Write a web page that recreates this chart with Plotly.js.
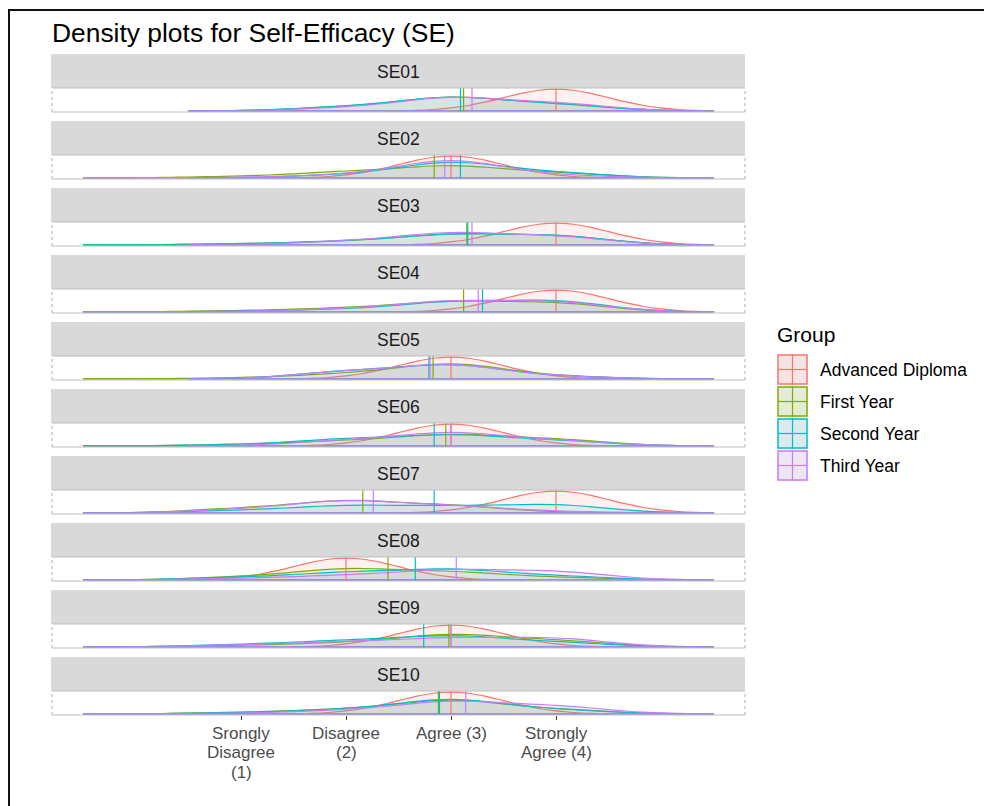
<!DOCTYPE html>
<html>
<head>
<meta charset="utf-8">
<script src="https://cdn.plot.ly/plotly-3.0.1.min.js"></script>
<style>
html,body{margin:0;padding:0;background:#fff;}
#chart{position:absolute;left:0;top:0;width:984px;height:806px;}
#frame{position:absolute;left:8px;top:9px;width:976px;height:797px;border-left:2px solid #111;border-top:2px solid #111;pointer-events:none;box-sizing:border-box;}
</style>
</head>
<body>
<div id="chart"></div>
<div id="frame"></div>
<script>
// ---------------- data ----------------
const chartTitle = 'Density plots for Self-Efficacy (SE)';
const items = ['SE01','SE02','SE03','SE04','SE05','SE06','SE07','SE08','SE09','SE10'];
const groups = ['Advanced Diploma','First Year','Second Year','Third Year'];
const groupColors = ['#F8766D','#7CAE00','#00BFC4','#C77CFF'];
const levels = [1, 2, 3, 4];
const tickText = ['Srongly<br>Disagree<br>(1)', 'Disagree<br>(2)', 'Agree (3)', 'Strongly<br>Agree (4)'];
const legendTitle = 'Group';

// % of each group answering level 1..4, one row per item (SE01..SE10)
const pctAdvancedDiploma = [
  [0,0,0,100],[0,0,100,0],[0,0,0,100],[0,0,0,100],[0,0,100,0],
  [0,0,100,0],[0,0,0,100],[0,100,0,0],[0,0,100,0],[0,0,100,0]
];
const pctFirstYear = [
  [0,15,58,27],[6,24,50,20],[5,13,44,38],[5,15,43,37],[4,20,65,11],
  [6,20,47,27],[18,50,30,2],[12,46,32,10],[6,16,52,26],[6,18,58,18]
];
const pctSecondYear = [
  [0,17,57,26],[0,12,67,21],[4,15,42,39],[3,10,41,46],[0,31,59,10],
  [5,28,45,22],[10,30,26,34],[10,30,44,16],[10,25,46,19],[5,17,62,16]
];
const pctThirdYear = [
  [0,12,56,32],[2,12,76,10],[0,15,50,35],[2,12,44,42],[0,30,60,10],
  [0,22,56,22],[14,52,28,6],[6,18,41,35],[8,20,36,36],[2,14,52,32]
];
const densityBandwidth = 0.5;

// ---------------- layout geometry (pixels) ----------------
const L = 52, R = 745, T = 54, B = 715;
const facetPitch = 67, stripH = 34, panelH = 24;
const py = p => (B - p) / (B - T);
const px = p => (p - L) / (R - L);

const groupPct = [pctAdvancedDiploma, pctFirstYear, pctSecondYear, pctThirdYear];

function expand(pct) {
  const s = [];
  pct.forEach((c, k) => { for (let j = 0; j < c; j++) s.push(levels[k]); });
  return s;
}
function rgba(hex, a) {
  const n = parseInt(hex.slice(1), 16);
  return 'rgba(' + ((n >> 16) & 255) + ',' + ((n >> 8) & 255) + ',' + (n & 255) + ',' + a + ')';
}

const violins = [], baselines = [], shapes = [], annotations = [];
const font = 'Liberation Sans, Arial, sans-serif';

const layout = {
  width: 984, height: 806,
  margin: {l: L, r: 984 - R, t: T, b: 806 - B, pad: 0},
  paper_bgcolor: 'rgba(0,0,0,0)', plot_bgcolor: '#FFFFFF',
  font: {family: font, color: '#000000'},
  showlegend: false,
  violinmode: 'overlay', violingap: 0, violingroupgap: 0,
  title: {
    text: chartTitle, x: 52 / 984, xref: 'container', xanchor: 'left',
    y: 1 - 33 / 806, yref: 'container', yanchor: 'middle',
    font: {family: font, size: 26.4, color: '#000000'}
  },
  xaxis: {
    range: [-0.8, 5.8], domain: [0, 1], anchor: 'y10',
    tickmode: 'array', tickvals: levels, ticktext: tickText, showticklabels: false,
    ticks: 'outside', ticklen: 4, tickwidth: 1, tickcolor: '#333333',
    tickfont: {family: font, size: 17, color: '#4D4D4D'},
    showgrid: false, zeroline: false, showline: false, fixedrange: true
  }
};

// tick labels (ggplot-style tight line spacing), placed on the x scale
levels.forEach((v, k) => {
  tickText[k].split('<br>').forEach((line, j) => {
    annotations.push({text: line, xref: 'x', yref: 'paper', x: v, y: py(733 + 19.5 * j),
      xanchor: 'center', yanchor: 'middle', showarrow: false,
      font: {family: font, size: 17, color: '#4D4D4D'}});
  });
});

items.forEach((item, i) => {
  const yname = i === 0 ? 'y' : 'y' + (i + 1);
  const yKey = i === 0 ? 'yaxis' : 'yaxis' + (i + 1);
  const stripTop = T + facetPitch * i;
  const stripBot = stripTop + stripH;
  const panelBot = stripBot + panelH;
  layout[yKey] = {
    domain: [py(panelBot), py(stripBot)], anchor: 'x', type: 'linear',
    range: [-0.05, 1.05], autorange: false,
    showticklabels: false, showgrid: false, zeroline: false, showline: false,
    ticks: '', fixedrange: true
  };
  // strip
  shapes.push({type: 'rect', xref: 'paper', yref: 'paper', x0: px(51), x1: 1,
    y0: py(stripBot), y1: py(stripTop), fillcolor: '#D9D9D9', line: {width: 0}, layer: 'below'});
  annotations.push({text: item, xref: 'paper', yref: 'paper', x: 0.5, y: py((stripTop + stripBot) / 2 + 1),
    xanchor: 'center', yanchor: 'middle', showarrow: false,
    font: {family: font, size: 17.5, color: '#1A1A1A'}});

  groups.forEach((g, gi) => {
    const samples = expand(groupPct[gi][i]);
    const lo = Math.min(...samples) - 3 * densityBandwidth;
    const hi = Math.max(...samples) + 3 * densityBandwidth;
    const col = groupColors[gi];
    violins.push({
      type: 'violin', orientation: 'h', x: samples, y0: 0, xaxis: 'x', yaxis: yname,
      name: g, side: 'positive', bandwidth: densityBandwidth,
      spanmode: 'manual', span: [lo, hi], scalegroup: 'all', scalemode: 'width',
      points: false, box: {visible: false}, meanline: {visible: false},
      line: {color: col, width: 1.2}, fillcolor: rgba(col, 0.1),
      hoverinfo: 'skip', showlegend: false
    });
    baselines.push({
      type: 'scatter', mode: 'lines', x: [lo, hi], y: [0, 0], xaxis: 'x', yaxis: yname,
      line: {color: col, width: 1.2}, hoverinfo: 'skip', showlegend: false
    });
    const mean = groupPct[gi][i].reduce((s, c, k) => s + c * levels[k], 0) /
                 groupPct[gi][i].reduce((s, c) => s + c, 0);
    shapes.push({type: 'line', xref: 'x', yref: yname + ' domain', x0: mean, x1: mean, y0: 0, y1: 1,
      line: {color: col, width: 1.2}, layer: 'above'});
  });

  // panel border
  const dom = yname + ' domain';
  shapes.push({type: 'line', xref: 'paper', yref: dom, x0: 0, x1: 1, y0: 1, y1: 1, line: {color: '#BDBDBD', width: 1.2}, layer: 'above'});
  shapes.push({type: 'line', xref: 'paper', yref: dom, x0: 0, x1: 1, y0: 0, y1: 0, line: {color: '#BDBDBD', width: 1.2}, layer: 'above'});
  shapes.push({type: 'line', xref: 'paper', yref: dom, x0: 0, x1: 0, y0: 0, y1: 1, line: {color: '#BDBDBD', width: 1.2, dash: 'dot'}, layer: 'above'});
  shapes.push({type: 'line', xref: 'paper', yref: dom, x0: 1, x1: 1, y0: 0, y1: 1, line: {color: '#BDBDBD', width: 1.2, dash: 'dot'}, layer: 'above'});
});

// legend (ggplot-style keys)
annotations.push({text: legendTitle, xref: 'paper', yref: 'paper', x: px(775), y: py(334),
  xanchor: 'left', yanchor: 'middle', showarrow: false, font: {family: font, size: 21, color: '#000000'}});
groups.forEach((g, gi) => {
  const top = 354 + 32 * gi, bot = top + 31, left = 777, right = 808;
  const col = groupColors[gi];
  shapes.push({type: 'rect', xref: 'paper', yref: 'paper', x0: px(left), x1: px(right), y0: py(bot), y1: py(top),
    fillcolor: '#F2F2F2', line: {width: 0}, layer: 'above'});
  shapes.push({type: 'rect', xref: 'paper', yref: 'paper', x0: px(left + 1), x1: px(right - 1), y0: py(bot - 1), y1: py(top + 1),
    fillcolor: rgba(col, 0.1), line: {color: col, width: 1.5}, layer: 'above'});
  shapes.push({type: 'line', xref: 'paper', yref: 'paper', x0: px((left + right) / 2), x1: px((left + right) / 2), y0: py(bot), y1: py(top),
    line: {color: col, width: 1.2}, layer: 'above'});
  shapes.push({type: 'line', xref: 'paper', yref: 'paper', x0: px(left + 1), x1: px(right - 1), y0: py((top + bot) / 2), y1: py((top + bot) / 2),
    line: {color: col, width: 1.2}, layer: 'above'});
  annotations.push({text: g, xref: 'paper', yref: 'paper', x: px(818), y: py((top + bot) / 2),
    xanchor: 'left', yanchor: 'middle', showarrow: false, font: {family: font, size: 17.5, color: '#000000'}});
});

layout.shapes = shapes;
layout.annotations = annotations;

Plotly.newPlot('chart', violins.concat(baselines), layout, {staticPlot: true, displayModeBar: false}).then(gd => {
  const cd = (gd.calcdata || []).find(c => c && c[0] && c[0].trace && c[0].trace.type === 'violin');
  const bd = cd && cd[0].t && cd[0].t.bdPos;
  if (bd && isFinite(bd)) {
    const upd = {};
    items.forEach((_, i) => {
      const k = i === 0 ? 'yaxis' : 'yaxis' + (i + 1);
      upd[k + '.range'] = [-0.05 * bd, 1.05 * bd];
    });
    return Plotly.relayout(gd, upd);
  }
});
</script>
</body>
</html>
